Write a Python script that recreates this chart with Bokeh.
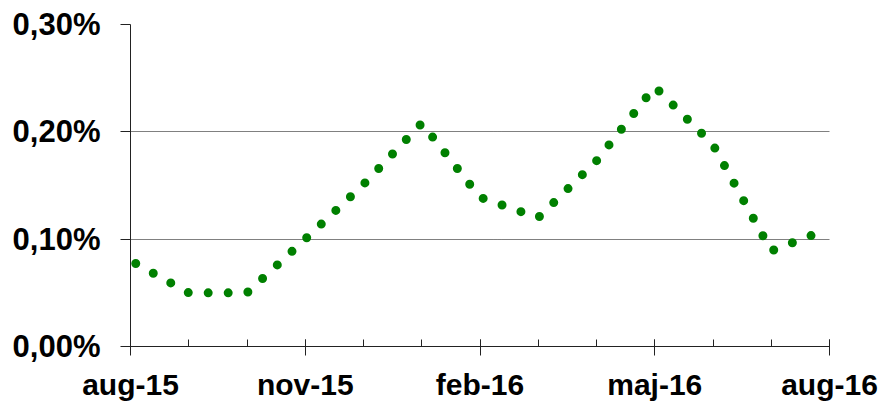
from bokeh.plotting import figure
from bokeh.models import FixedTicker, Range1d
from bokeh.embed import file_html
from bokeh.resources import INLINE

# Monthly values (%)
months = ["aug-15", "sep-15", "okt-15", "nov-15", "dec-15", "jan-16", "feb-16",
          "mar-16", "apr-16", "maj-16", "jun-16", "jul-16", "aug-16"]
values = [0.080, 0.050, 0.050, 0.100, 0.151, 0.208, 0.139,
          0.120, 0.173, 0.242, 0.188, 0.089, 0.110]
labelled_idx = [0, 3, 6, 9, 12]
y_ticks = [0.0, 0.1, 0.2, 0.3]
y_labels = ["0,00%", "0,10%", "0,20%", "0,30%"]

x = list(range(len(months)))

p = figure(width=883, height=403, output_backend="svg", toolbar_location=None,
           x_range=Range1d(0, len(months) - 1), y_range=Range1d(0, 0.30),
           min_border_left=130, min_border_right=54, min_border_top=24,
           min_border_bottom=55)
p.outline_line_color = None
p.background_fill_color = "white"

p.line(x, values, line_color="#008000", line_width=9, line_dash="0 20",
       line_cap="round", line_join="round", line_dash_offset=14)

font = "Liberation Sans"
xa = p.xaxis[0]
xa.ticker = FixedTicker(ticks=labelled_idx, minor_ticks=x)
xa.major_label_overrides = {i: months[i] for i in labelled_idx}
xa.major_label_text_font = font
xa.major_label_text_font_style = "bold"
xa.major_label_text_font_size = "30px"
xa.major_label_text_color = "black"
xa.major_label_standoff = 12
xa.major_tick_in = 7
xa.major_tick_out = 9
xa.minor_tick_in = 7
xa.minor_tick_out = 0
xa.axis_line_color = "#222222"
xa.major_tick_line_color = "#222222"
xa.minor_tick_line_color = "#222222"

ya = p.yaxis[0]
ya.ticker = FixedTicker(ticks=y_ticks)
ya.major_label_overrides = {t: l for t, l in zip(y_ticks, y_labels)}
ya.major_label_text_font = font
ya.major_label_text_font_style = "bold"
ya.major_label_text_font_size = "31px"
ya.major_label_text_color = "black"
ya.major_label_standoff = 20
ya.major_tick_in = 0
ya.major_tick_out = 10
ya.minor_tick_line_color = None
ya.axis_line_color = "#222222"
ya.major_tick_line_color = "#222222"

p.xgrid.visible = False
p.ygrid.grid_line_color = "#000000"
p.ygrid.grid_line_dash = "1 1"
p.ygrid.grid_line_width = 1

open("out.html", "w").write(file_html(p, INLINE))
